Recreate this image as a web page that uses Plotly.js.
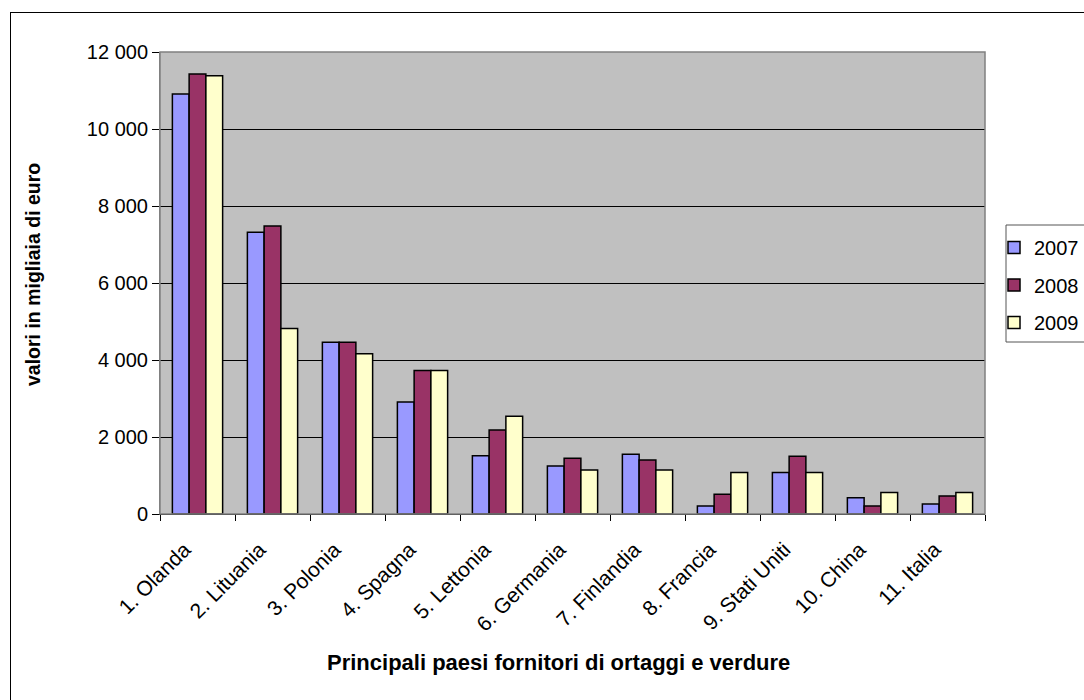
<!DOCTYPE html>
<html>
<head>
<meta charset="utf-8">
<script src="https://cdn.plot.ly/plotly-3.0.1.min.js"></script>
<style>
  html, body { margin: 0; padding: 0; background: #ffffff; overflow: hidden; }
  #frame { position: absolute; left: 10px; top: 12px; width: 1200px; height: 800px; border: 1px solid #000; box-sizing: border-box; }
  #chart { position: absolute; left: 0; top: 0; width: 1084px; height: 700px; }
</style>
</head>
<body>
<div id="frame"></div>
<div id="chart"></div>
<script>
const categories = ["1. Olanda", "2. Lituania", "3. Polonia", "4. Spagna", "5. Lettonia", "6. Germania", "7. Finlandia", "8. Francia", "9. Stati Uniti", "10. China", "11. Italia"];
const seriesNames = ["2007", "2008", "2009"];
const values2007 = [10910, 7320, 4460, 2910, 1510, 1250, 1550, 210, 1080, 420, 260];
const values2008 = [11430, 7480, 4460, 3730, 2180, 1450, 1400, 510, 1500, 210, 470];
const values2009 = [11380, 4820, 4160, 3730, 2540, 1140, 1140, 1080, 1080, 560, 560];
const yTicks = [0, 2000, 4000, 6000, 8000, 10000, 12000];
const xTitle = "Principali paesi fornitori di ortaggi e verdure";
const yTitle = "valori in migliaia di euro";

const colors = ["#9999ff", "#993366", "#ffffcc"];
const allValues = [values2007, values2008, values2009];

const traces = allValues.map((v, i) => ({
  type: "bar",
  name: seriesNames[i],
  legendgroup: "g" + i,
  x: categories,
  y: v,
  marker: { color: colors[i], line: { color: "#000000", width: 1.5 } },
  hoverinfo: "x+y+name"
}));

const FONT = "Liberation Sans, Arial, sans-serif";

const layout = {
  width: 1084,
  height: 700,
  paper_bgcolor: "rgba(0,0,0,0)",
  plot_bgcolor: "#c0c0c0",
  margin: { l: 160, r: 99, t: 52, b: 186, autoexpand: false },
  font: { family: FONT, size: 20, color: "#000" },
  barmode: "group",
  bargap: 0.33,
  bargroupgap: 0,
  separators: ", ",
  showlegend: true,
  legend: {
    x: (994 - 160) / 825, y: (514 - 228) / 462, xanchor: "left", yanchor: "top",
    bgcolor: "rgba(0,0,0,0)", borderwidth: 0,
    font: { size: 20 }, tracegroupgap: 8.5, traceorder: "grouped",
    itemwidth: 30
  },
  xaxis: {
    type: "category",
    tickangle: -45,
    tickson: "boundaries",
    ticks: "outside",
    ticklen: 6,
    tickcolor: "#000",
    showline: true,
    linecolor: "#000",
    linewidth: 1,
    tickfont: { size: 21 },
    ticklabelstandoff: 14,
    ticklabelshift: -13,
    automargin: false
  },
  yaxis: {
    range: [0, 12000],
    tickvals: yTicks,
    tickformat: ",d",
    ticks: "outside",
    ticklen: 7,
    tickcolor: "#000",
    showgrid: true,
    gridcolor: "#000000",
    gridwidth: 1,
    zeroline: false,
    showline: true,
    linecolor: "#808080",
    linewidth: 1,
    tickfont: { size: 20 },
    automargin: false
  },
  annotations: [
    { text: "<b>" + xTitle + "</b>", xref: "paper", yref: "paper", x: (558 - 160) / 825, y: (514 - 662) / 462,
      xanchor: "center", yanchor: "middle", showarrow: false, font: { size: 22 } },
    { text: "<b>" + yTitle + "</b>", xref: "paper", yref: "paper", x: (33 - 160) / 825, y: (514 - 275) / 462,
      xanchor: "center", yanchor: "middle", showarrow: false, textangle: -90, font: { size: 19.5 } }
  ],
  shapes: [
    { type: "rect", xref: "paper", yref: "paper", x0: 0, x1: 1, y0: 0, y1: 1, line: { color: "#808080", width: 1.5 }, fillcolor: "rgba(0,0,0,0)", layer: "above" },
    { type: "rect", xref: "paper", yref: "paper", x0: (1006 - 160) / 825, x1: 1.2, y0: (514 - 342) / 462, y1: (514 - 225) / 462, line: { color: "#555555", width: 1 }, fillcolor: "rgba(0,0,0,0)", layer: "above" }
  ]
};

Plotly.newPlot("chart", traces, layout, { displayModeBar: false, staticPlot: true });
</script>
</body>
</html>
